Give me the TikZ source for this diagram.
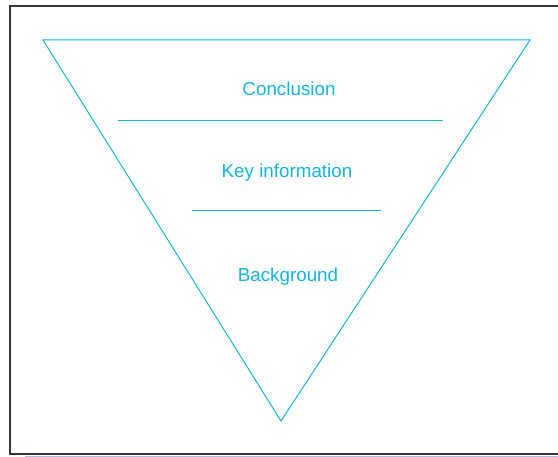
\documentclass[tikz,border=0pt]{standalone}
\usepackage{fontspec}
\setmainfont{Liberation Sans}
\definecolor{tri}{RGB}{20,182,220}
\definecolor{frame}{RGB}{55,55,55}
\definecolor{faint}{RGB}{170,190,225}
\tikzset{
  trline/.style={draw=tri, line width=1pt},
  label/.style={text=tri, font=\fontsize{18.8}{21}\selectfont, inner sep=0pt, anchor=center},
}
\begin{document}
\begin{tikzpicture}[x=1pt,y=-1pt]
\useasboundingbox (0,0) rectangle (558,457);
\fill[white] (0,0) rectangle (558,457);
% frame (right side cut off)
\draw[frame, line width=2pt] (558,6) -- (9.5,6) -- (9.5,454.5) -- (558,454.5);
\draw[faint, line width=0.8pt] (25,456.5) -- (558,456.5);
% triangle
\coordinate (tl) at (43,40);
\coordinate (tr) at (530,40);
\coordinate (ap) at (281,421);
\draw[trline, line join=miter] (tl) -- (tr) -- (ap) -- cycle;
\coordinate (a1) at (118,121);
\coordinate (b1) at (443,121);
\coordinate (a2) at (192,211);
\coordinate (b2) at (381,211);
\draw[trline] (a1) -- (b1);
\draw[trline] (a2) -- (b2);
\node[label] (c) at (289,88.5) {Conclusion};
\node[label] (k) at (287,172.5) {Key information};
\node[label] (bg) at (288,276.5) {Background};
\end{tikzpicture}
\end{document}
